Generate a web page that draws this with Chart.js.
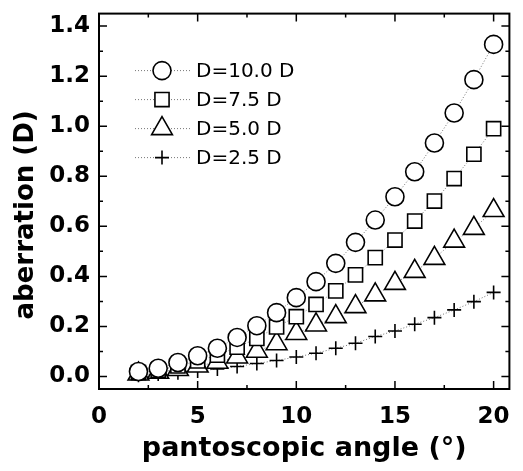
<!DOCTYPE html>
<html>
<head>
<meta charset="utf-8">
<script src="https://cdn.jsdelivr.net/npm/chart.js@4.4.0/dist/chart.umd.min.js"></script>
<style>
  html, body { margin: 0; padding: 0; background: #fff; }
  canvas { display: block; }
</style>
</head>
<body>
<canvas id="c" width="523" height="471"></canvas>
<script>
// ---- data ----
const angles = [2,3,4,5,6,7,8,9,10,11,12,13,14,15,16,17,18,19,20];
const seriesLabels = ['D=10.0 D', 'D=7.5 D', 'D=5.0 D', 'D=2.5 D'];
const d10 = [0.020,0.033,0.056,0.083,0.113,0.156,0.203,0.255,0.315,0.379,0.452,0.536,0.625,0.718,0.818,0.933,1.053,1.186,1.327];
const d75 = [0.015,0.025,0.042,0.062,0.085,0.117,0.152,0.198,0.239,0.288,0.342,0.406,0.475,0.545,0.621,0.701,0.791,0.888,0.990];
const d50 = [0.010,0.017,0.028,0.042,0.057,0.078,0.101,0.131,0.172,0.206,0.239,0.279,0.326,0.372,0.420,0.472,0.541,0.592,0.663];
const d25 = [0.005,0.010,0.015,0.022,0.030,0.040,0.052,0.064,0.078,0.093,0.113,0.133,0.160,0.182,0.209,0.235,0.266,0.299,0.336];
const xMajorTicks = [0,5,10,15,20];
const xMinorTicks = [2.5,7.5,12.5,17.5];
const yMajorTicks = [0,0.2,0.4,0.6,0.8,1.0,1.2,1.4];
const yMinorTicks = [0.1,0.3,0.5,0.7,0.9,1.1,1.3];
const xTitle = 'pantoscopic angle (°)';
const yTitle = 'aberration (D)';

const styles = [
  {pointStyle:'circle', radius:9},
  {pointStyle:'rect', radius:10},
  {pointStyle:'triangle', radius:12},
  {pointStyle:'cross', radius:7}
];
const values = [d10, d75, d50, d25];

Chart.defaults.font.family = 'DejaVu Sans';
Chart.defaults.color = '#000';

const datasets = values.map((arr, i) => ({
  label: seriesLabels[i],
  data: angles.map((a, j) => ({x: a, y: arr[j]})),
  borderColor: '#777',
  borderWidth: 1,
  borderDash: [1, 2],
  pointStyle: styles[i].pointStyle,
  pointRadius: styles[i].radius,
  pointHoverRadius: styles[i].radius,
  pointBorderWidth: 1.6,
  pointBorderColor: '#000',
  pointBackgroundColor: '#fff',
  fill: false,
  tension: 0,
  clip: false
}));

const bgPlugin = {
  id: 'bg',
  beforeDraw(chart) {
    const ctx = chart.ctx;
    ctx.save();
    ctx.fillStyle = '#fff';
    ctx.fillRect(0, 0, chart.width, chart.height);
    ctx.restore();
  }
};

const framePlugin = {
  id: 'frame',
  afterDatasetsDraw(chart) {
    const {ctx, chartArea: a, scales: {x, y}} = chart;
    ctx.save();
    ctx.strokeStyle = '#000';
    ctx.lineWidth = 1.5;
    const major = 8, minor = 4;
    ctx.beginPath();
    xMajorTicks.forEach(v => {
      const p = x.getPixelForValue(v);
      ctx.moveTo(p, a.bottom); ctx.lineTo(p, a.bottom - major);
      ctx.moveTo(p, a.top); ctx.lineTo(p, a.top + major);
    });
    xMinorTicks.forEach(v => {
      const p = x.getPixelForValue(v);
      ctx.moveTo(p, a.bottom); ctx.lineTo(p, a.bottom - minor);
      ctx.moveTo(p, a.top); ctx.lineTo(p, a.top + minor);
    });
    yMajorTicks.forEach(v => {
      const p = y.getPixelForValue(v);
      ctx.moveTo(a.left, p); ctx.lineTo(a.left + major, p);
      ctx.moveTo(a.right, p); ctx.lineTo(a.right - major, p);
    });
    yMinorTicks.forEach(v => {
      const p = y.getPixelForValue(v);
      ctx.moveTo(a.left, p); ctx.lineTo(a.left + minor, p);
      ctx.moveTo(a.right, p); ctx.lineTo(a.right - minor, p);
    });
    ctx.stroke();
    ctx.lineWidth = 2;
    ctx.strokeRect(a.left, a.top, a.right - a.left, a.bottom - a.top);
    ctx.restore();
  }
};

const legendPlugin = {
  id: 'inlegend',
  afterDraw(chart) {
    const {ctx, chartArea: a} = chart;
    const x0 = a.left + 36, x1 = a.left + 91, xm = a.left + 63, xt = a.left + 97;
    const y0 = a.top + 57, dy = 29;
    ctx.save();
    chart.data.datasets.forEach((ds, i) => {
      const yy = y0 + i * dy;
      ctx.strokeStyle = '#777';
      ctx.lineWidth = 1;
      ctx.setLineDash([1, 2]);
      ctx.beginPath();
      ctx.moveTo(x0, yy); ctx.lineTo(x1, yy);
      ctx.stroke();
      ctx.setLineDash([]);
      ctx.strokeStyle = '#000';
      ctx.fillStyle = '#fff';
      ctx.lineWidth = 1.6;
      Chart.helpers.drawPoint(ctx, {pointStyle: ds.pointStyle, radius: ds.pointRadius, borderWidth: 1.6, rotation: 0}, xm, yy);
      ctx.fillStyle = '#000';
      ctx.font = '20px "DejaVu Sans"';
      ctx.textBaseline = 'middle';
      ctx.textAlign = 'left';
      ctx.fillText(ds.label, xt, yy + 1);
    });
    ctx.restore();
  }
};

new Chart(document.getElementById('c'), {
  type: 'line',
  data: { datasets },
  options: {
    responsive: false,
    animation: false,
    devicePixelRatio: 1,
    layout: { padding: { top: 11, right: 3, left: 0, bottom: 0 } },
    plugins: { legend: { display: false }, tooltip: { enabled: false } },
    scales: {
      x: {
        type: 'linear',
        min: 0, max: 20.8,
        grid: { display: false, drawTicks: false },
        border: { display: false },
        ticks: {
          stepSize: 5, includeBounds: false, padding: 14,
          font: { size: 23, weight: 'bold' },
          callback: v => String(v)
        },
        title: {
          display: true, text: xTitle,
          font: { size: 27, weight: 'bold' },
          padding: { top: 0, bottom: 6 }
        },
        afterFit(s) { s.height = 82; s.paddingLeft = 0; s.paddingRight = 0; }
      },
      y: {
        type: 'linear',
        min: -0.05, max: 1.45,
        grid: { display: false, drawTicks: false },
        border: { display: false },
        ticks: {
          stepSize: 0.2, includeBounds: false, padding: 9,
          font: { size: 23, weight: 'bold' },
          callback: v => v.toFixed(1)
        },
        title: {
          display: true, text: yTitle + '   ',
          font: { size: 26, weight: 'bold' },
          padding: { top: 11, bottom: 0 }
        },
        afterFit(s) { s.width = 99; s.paddingTop = 0; s.paddingBottom = 0; }
      }
    }
  },
  plugins: [bgPlugin, framePlugin, legendPlugin]
});
</script>
</body>
</html>
